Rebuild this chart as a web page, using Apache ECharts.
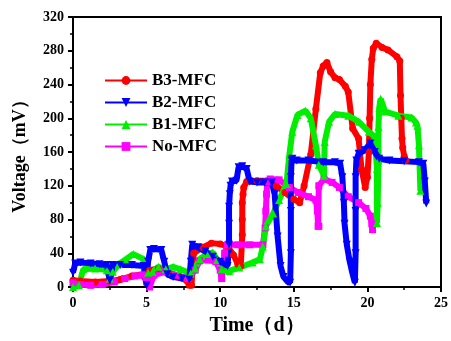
<!DOCTYPE html>
<html>
<head>
<meta charset="utf-8">
<script src="https://cdn.jsdelivr.net/npm/echarts@6.0.0/dist/echarts.min.js"></script>
<style>
html, body { margin: 0; padding: 0; background: #fff; }
#chart { width: 451px; height: 341px; }
</style>
</head>
<body>
<div id="chart"></div>
<script>
// values (time in days, voltage in mV)
const b3Time = [0, 0.5, 1.5, 2.5, 3.2, 4.0, 4.8, 5.0, 5.2, 5.8, 6.5, 7.2, 7.7, 7.9, 8.05, 8.2, 8.8, 9.4, 10.0, 10.5, 10.9, 11.2, 11.4, 11.5, 11.5, 11.5, 11.55, 11.6, 11.8, 12.5, 13.2, 13.8, 14.4, 15.0, 15.4, 15.7, 16.15, 16.5, 16.8, 17.0, 17.25, 17.5, 17.8, 18.1, 18.5, 18.7, 19.0, 19.4, 19.6, 19.85, 20.0, 20.1, 20.15, 20.2, 20.3, 20.4, 20.6, 21.0, 21.4, 22.0, 22.2, 22.25, 22.3, 22.35, 22.4, 22.5, 22.6];
const b3Volt = [8, 7, 6, 7, 9, 13, 15, 6, 20, 22, 17, 13, 8, 2, 2, 40, 47, 52, 51, 48, 38, 27, 25, 62, 80, 100, 110, 118, 125, 126, 126, 120, 112, 104, 100, 120, 157, 211, 254, 262, 266, 255, 248, 246, 238, 231, 188, 176, 140, 118, 130, 160, 200, 240, 270, 283, 289, 284, 281, 273, 268, 227, 200, 176, 165, 155, 150];

const b2Time = [0, 0.15, 0.5, 1.2, 1.8, 2.3, 2.5, 2.7, 3.2, 4.0, 4.8, 5.0, 5.1, 5.25, 5.5, 6.0, 6.2, 6.4, 6.8, 7.4, 7.9, 8.0, 8.1, 8.5, 9.0, 9.5, 10.0, 10.5, 10.6, 10.6, 10.6, 10.65, 10.7, 10.8, 11.1, 11.25, 11.5, 11.8, 12.0, 12.5, 13.0, 13.5, 13.7, 13.9, 14.1, 14.3, 14.6, 14.75, 14.8, 14.8, 14.8, 14.85, 14.9, 15.2, 16.0, 17.0, 17.8, 18.15, 18.3, 18.4, 18.45, 18.6, 18.8, 19.0, 19.15, 19.2, 19.2, 19.2, 19.25, 19.4, 19.8, 20.2, 20.5, 20.8, 21.5, 22.5, 23.5, 23.8, 23.9, 24.0];
const b2Volt = [17, 28, 29, 28, 27, 26, 8, 26, 26, 26, 25, 2, 30, 44, 45, 44, 30, 15, 12, 10, 9, 30, 50, 47, 42, 36, 30, 25, 50, 75, 95, 110, 120, 125, 126, 142, 143, 140, 125, 124, 124, 124, 110, 60, 25, 12, 6, 5, 40, 90, 130, 150, 152, 150, 150, 148, 148, 146, 130, 100, 75, 50, 30, 15, 5, 40, 90, 130, 150, 158, 162, 170, 160, 152, 150, 149, 148, 146, 125, 99];

const b1Time = [0, 0.4, 0.7, 1.5, 2.3, 2.5, 2.7, 3.1, 3.6, 4.1, 4.8, 5.1, 5.4, 5.8, 6.3, 6.8, 7.3, 8.0, 8.3, 8.6, 9.1, 9.5, 9.8, 10.1, 10.6, 11.3, 12.2, 12.7, 12.9, 13.1, 13.6, 14.0, 14.5, 14.7, 14.9, 15.25, 15.8, 16.15, 16.5, 16.7, 17.05, 17.1, 17.4, 17.8, 18.7, 19.4, 20.1, 20.5, 20.65, 20.65, 20.7, 20.75, 20.75, 20.8, 20.9, 21.2, 22.1, 23.0, 23.3, 23.4, 23.5, 23.6];
const b1Volt = [0, 2, 21, 22, 20, 10, 18, 27, 33, 39, 33, 17, 18, 24, 21, 24, 21, 16, 22, 33, 39, 41, 32, 21, 19, 23, 29, 33, 48, 72, 87, 103, 122, 157, 184, 204, 209, 200, 168, 145, 132, 172, 196, 205, 203, 196, 184, 178, 140, 76, 100, 150, 190, 212, 223, 208, 203, 201, 195, 191, 168, 114];

const noTime = [0, 0.5, 1.2, 2.0, 2.8, 3.5, 4.2, 4.7, 5.0, 5.2, 5.5, 6.2, 7.0, 7.8, 8.3, 8.6, 9.2, 9.7, 10.0, 10.1, 10.3, 10.5, 11.2, 12.0, 12.9, 13.05, 13.1, 13.15, 13.2, 13.4, 14.0, 14.7, 15.3, 16.0, 16.5, 16.6, 16.65, 16.7, 16.7, 17.05, 17.6, 18.1, 18.7, 19.4, 19.9, 20.2, 20.3, 20.35];
const noVolt = [5, 3, 2, 3, 6, 10, 13, 14, 8, 0, 14, 18, 14, 10, 20, 31, 32, 30, 20, 10, 40, 50, 50, 50, 50, 70, 90, 110, 125, 128, 127, 118, 112, 107, 103, 90, 72, 72, 120, 128, 124, 118, 107, 100, 93, 84, 75, 68];

const seriesNames = ["B3-MFC", "B2-MFC", "B1-MFC", "No-MFC"];

const FONT = "'Liberation Serif', 'Times New Roman', serif";
const DOWN_TRI = "path://M0,0 L10,0 L5,9 Z";

const pairs = (xs, ys) => xs.map((x, i) => [x, ys[i]]);

// thick line + markers to look like the densely sampled curves
function lineSeries(name, data, color, symbol, size) {
	return {
		name: name,
		type: "line",
		data: data,
		color: color,
		symbol: symbol,
		symbolSize: size,
		showAllSymbol: true,
		lineStyle: { width: 6, color: color },
		itemStyle: { color: color },
	};
}

const chart = echarts.init(document.getElementById("chart"), null, { renderer: "canvas" });

const axisText = { color: "#000", fontFamily: FONT, fontWeight: "bold", fontSize: 14 };
const nameText = { color: "#000", fontFamily: FONT, fontWeight: "bold" };

chart.setOption({
	animation: false,
	backgroundColor: "#fff",
	// plot box with frame on all four sides
	grid: {
		left: 73, right: 8, top: 17, bottom: 49,
		show: true, borderColor: "#000", borderWidth: 2,
	},
	legend: {
		data: seriesNames,
		orient: "vertical",
		left: 104,
		top: 72,
		padding: 0,
		itemGap: 5,
		itemWidth: 42,
		itemHeight: 11,
		lineStyle: { width: 2 },
		textStyle: { color: "#000", fontFamily: FONT, fontWeight: "bold", fontSize: 17 },
	},
	xAxis: {
		type: "value",
		min: 0, max: 25, interval: 5,
		name: "Time（d）",
		nameLocation: "middle",
		nameGap: 29,
		nameTextStyle: Object.assign({ fontSize: 20 }, nameText),
		axisLine: { lineStyle: { color: "#000", width: 2 } },
		axisTick: { length: 5, lineStyle: { color: "#000", width: 2 } },
		minorTick: { show: true, splitNumber: 2, length: 3, lineStyle: { color: "#000", width: 1.5 } },
		splitLine: { show: false },
		axisLabel: Object.assign({ margin: 9 }, axisText),
	},
	yAxis: {
		type: "value",
		min: 0, max: 320, interval: 40,
		name: "Voltage（mV）",
		nameLocation: "middle",
		nameGap: 44,
		nameTextStyle: Object.assign({ fontSize: 18 }, nameText),
		axisLine: { show: true, lineStyle: { color: "#000", width: 2 } },
		axisTick: { show: true, length: 5, lineStyle: { color: "#000", width: 2 } },
		minorTick: { show: true, splitNumber: 2, length: 3, lineStyle: { color: "#000", width: 1.5 } },
		splitLine: { show: false },
		axisLabel: Object.assign({ margin: 9 }, axisText),
	},
	// drawing order: red, magenta, green, blue on top
	series: [
		lineSeries("B3-MFC", pairs(b3Time, b3Volt), "#ff0000", "circle", 7),
		lineSeries("No-MFC", pairs(noTime, noVolt), "#ff00ff", "rect", 7),
		lineSeries("B1-MFC", pairs(b1Time, b1Volt), "#00ee00", "triangle", 8),
		lineSeries("B2-MFC", pairs(b2Time, b2Volt), "#0000ff", DOWN_TRI, 8),
	],
});
</script>
</body>
</html>
